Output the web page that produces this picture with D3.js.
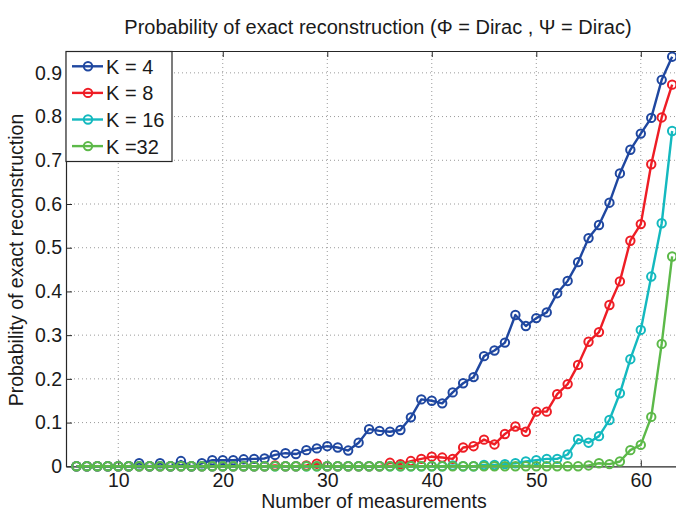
<!DOCTYPE html>
<html><head><meta charset="utf-8">
<script src="https://cdn.jsdelivr.net/npm/d3@7"></script>
<style>
html,body{margin:0;padding:0;background:#fff;}
svg{display:block;font-family:"Liberation Sans",Arial,Helvetica,sans-serif;}
</style></head>
<body><svg id="c" width="676" height="511"></svg>
<script>
const measurements = d3.range(6, 64);
const k4 = [0,0,0,0,0,0,0.007,0,0.007,0,0.012,0,0.007,0.014,0.014,0.014,0.016,0.017,0.018,0.026,0.030,0.028,0.037,0.041,0.046,0.043,0.036,0.054,0.085,0.081,0.079,0.083,0.112,0.153,0.150,0.144,0.169,0.190,0.204,0.252,0.265,0.283,0.346,0.321,0.339,0.352,0.396,0.424,0.467,0.522,0.552,0.603,0.670,0.724,0.761,0.797,0.884,0.937];
const k8 = [0,0,0,0,0,0,0,0,0,0,0,0,0,0,0,0,0,0,0,0.002,0,0,0.002,0.006,0,0,0,0,0,0,0.008,0.005,0.012,0.017,0.022,0.020,0.017,0.043,0.046,0.061,0.050,0.074,0.091,0.079,0.125,0.125,0.165,0.188,0.232,0.285,0.307,0.369,0.423,0.516,0.554,0.691,0.798,0.873];
const k16 = [0,0,0,0,0,0,0,0,0,0,0,0,0,0,0,0,0,0,0,0,0,0,0,0,0,0,0,0,0,0,0,0,0,0,0,0,0.002,0,0,0.003,0.003,0.005,0.007,0.011,0.014,0.017,0.017,0.027,0.062,0.054,0.069,0.106,0.167,0.245,0.312,0.434,0.556,0.767];
const k32 = [0,0,0,0,0,0,0,0,0,0,0,0,0,0,0,0,0,0,0,0,0,0,0,0,0,0,0,0,0,0,0,0,0,0,0,0,0,0,0,0,0,0,0,0,0,0,0,0,0,0.002,0.007,0.005,0.011,0.037,0.049,0.113,0.280,0.480];
const seriesNames = ["K = 4","K = 8","K = 16","K =32"];
const seriesColors = ["#1f47a0","#ee1d25","#14b9bf","#5cb949"];
const xTicks = [10,20,30,40,50,60];
const yTicks = [0,0.1,0.2,0.3,0.4,0.5,0.6,0.7,0.8,0.9];
const titleText = "Probability of exact reconstruction (\u03A6 = Dirac , \u03A8 = Dirac)";
const xLabel = "Number of measurements";
const yLabel = "Probability of exact reconstruction";

const allSeries = [k4,k8,k16,k32];
const L=66, R=682.6, T=51, B=466.3;
const x = d3.scaleLinear().domain([5,64]).range([L,R]);
const y = d3.scaleLinear().domain([0,0.95]).range([B,T]);
const svg = d3.select("#c");
const fs = 19.5;

// grid
const grid = svg.append("g").attr("stroke","#9a9a9a").attr("stroke-width",1).attr("stroke-dasharray","1,3");
grid.selectAll("line.gx").data(xTicks).join("line")
  .attr("x1",d=>x(d)).attr("x2",d=>x(d)).attr("y1",T).attr("y2",B);
grid.selectAll("line.gy").data(yTicks.filter(d=>d>0)).join("line")
  .attr("class","gy").attr("x1",L).attr("x2",R).attr("y1",d=>y(d)).attr("y2",d=>y(d));

// axes
const axB = svg.append("g").attr("transform",`translate(0,${B})`)
  .call(d3.axisBottom(x).tickValues(xTicks).tickSizeInner(-6).tickSizeOuter(0).tickPadding(10));
const axT = svg.append("g").attr("transform",`translate(0,${T})`)
  .call(d3.axisTop(x).tickValues(xTicks).tickSizeInner(-6).tickSizeOuter(0).tickFormat(""));
const axL = svg.append("g").attr("transform",`translate(${L},0)`)
  .call(d3.axisLeft(y).tickValues(yTicks).tickSizeInner(-6).tickSizeOuter(0).tickPadding(4).tickFormat(d=>d===0?"0":d3.format(".1f")(d)));
[axB,axT,axL].forEach(a=>{
  a.selectAll(".domain").attr("stroke","#262626").attr("stroke-width",1.2);
  a.selectAll(".tick line").attr("stroke","#262626").attr("stroke-width",1);
  a.selectAll("text").attr("font-size",fs).attr("fill","#1a1a1a").attr("font-family","Liberation Sans, Arial, sans-serif");
});
axB.selectAll("text").attr("dy",null).attr("y",21);

// series
const lineGen = d3.line().x((d,i)=>x(measurements[i])).y(d=>y(d));
allSeries.forEach((s,si)=>{
  const g = svg.append("g");
  g.append("path").datum(s).attr("d",lineGen).attr("fill","none")
    .attr("stroke",seriesColors[si]).attr("stroke-width",2.4).attr("stroke-linejoin","round");
  g.selectAll("circle").data(s).join("circle")
    .attr("cx",(d,i)=>x(measurements[i])).attr("cy",d=>y(d)).attr("r",4.2)
    .attr("fill","none").attr("stroke",seriesColors[si]).attr("stroke-width",2);
});

// legend
const lg = svg.append("g");
lg.append("rect").attr("x",L).attr("y",51.5).attr("width",106).attr("height",110)
  .attr("fill","#fff").attr("stroke","#262626").attr("stroke-width",1.2);
seriesNames.forEach((n,i)=>{
  const yy = 66.3 + i*26.6;
  lg.append("line").attr("x1",72).attr("x2",103).attr("y1",yy).attr("y2",yy)
    .attr("stroke",seriesColors[i]).attr("stroke-width",2.4);
  lg.append("circle").attr("cx",88).attr("cy",yy).attr("r",4.2).attr("fill","none")
    .attr("stroke",seriesColors[i]).attr("stroke-width",2);
  lg.append("text").attr("x",106).attr("y",yy+7.5).attr("font-size",20).attr("fill","#1a1a1a").text(n);
});

// labels
svg.append("text").attr("x",378).attr("y",34).attr("text-anchor","middle").attr("font-size",20).attr("fill","#1a1a1a").text(titleText);
svg.append("text").attr("x",374).attr("y",508).attr("text-anchor","middle").attr("font-size",fs).attr("fill","#1a1a1a").text(xLabel);
svg.append("text").attr("transform","translate(23,260) rotate(-90)").attr("text-anchor","middle").attr("font-size",fs).attr("fill","#1a1a1a").text(yLabel);
</script></body></html>
